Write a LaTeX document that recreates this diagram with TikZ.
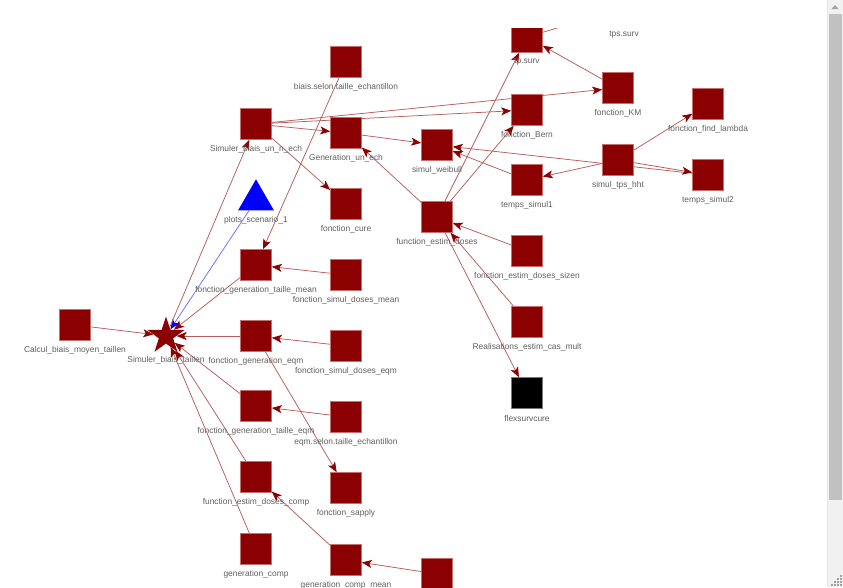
\documentclass[tikz,border=0pt]{standalone}
\usepackage{fontspec}
\setmainfont{Liberation Sans}
\usetikzlibrary{shapes.geometric,arrows.meta}
\pgfdeclarelayer{canvas}
\pgfdeclarelayer{edges}
\pgfsetlayers{canvas,edges,main}
\definecolor{nodered}{RGB}{139,0,0}
\definecolor{noderim}{RGB}{200,110,110}
\definecolor{blackrim}{RGB}{120,120,120}
\definecolor{edgered}{RGB}{184,92,92}
\definecolor{edgeblue}{RGB}{110,110,255}
\definecolor{labelgray}{RGB}{95,95,95}
\definecolor{track}{RGB}{241,241,241}
\definecolor{trackline}{RGB}{230,230,230}
\definecolor{thumb}{RGB}{193,193,193}
\definecolor{uparrow}{RGB}{163,163,163}
\definecolor{grip}{RGB}{160,160,160}
% square node with its caption below
\newcommand\netnode[4][]{%
  \node[sq,#1] (#2) at (#3) {};
  \node[lbl] (#2-l) at ([yshift=-25pt]#2.center) {#4};}
\begin{document}
\begin{tikzpicture}[x=1pt,y=-1pt,
  sq/.style={rectangle,fill=nodered,draw=noderim,line width=0.6pt,
    minimum size=31pt,inner sep=0pt},
  blacksq/.style={fill=black,draw=blackrim},
  lbl/.style={font=\fontsize{8.4}{10}\selectfont,text=labelgray,inner sep=0pt},
  link/.style={draw=edgered,line width=0.75pt,
    -{Stealth[length=10pt,width=8pt,inset=2.5pt,color=nodered]}},
  bluelink/.style={draw=edgeblue,line width=0.75pt,
    -{Stealth[length=10pt,width=8pt,inset=2.5pt,color=blue]}}]
\useasboundingbox (0,0) rectangle (843,587);
\begin{pgfonlayer}{canvas}
\fill[white] (0,0) rectangle (843,587);
\end{pgfonlayer}

\begin{scope}
\clip (0,28) rectangle (827,587);
% left cluster
\netnode{cbm}{75,325}{Calcul\_biais\_moyen\_taillen}
\node[star,star points=5,star point ratio=2.6,minimum size=39pt,inner sep=0pt,
  fill=nodered] (sbt) at (166,336) {};
\node[lbl] (sbt-l) at (166,360) {Simuler\_biais\_taillen};
\node[regular polygon,regular polygon sides=3,minimum size=41.4pt,inner sep=0pt,
  fill=blue] (plt) at (256,200) {};
\node[lbl] (plt-l) at (256,220) {plots\_scenario\_1};
\netnode{sbu}{256,124}{Simuler\_biais\_un\_n\_ech}
\netnode{bst}{346,62}{biais.selon.taille\_echantillon}
\netnode{gue}{346,133}{Generation\_un\_ech}
\netnode{fcu}{346,204}{fonction\_cure}
\netnode{fgtm}{256,265}{fonction\_generation\_taille\_mean}
\netnode{fsdm}{346,275}{fonction\_simul\_doses\_mean}
\netnode{fge}{256,336}{fonction\_generation\_eqm}
\netnode{fsde}{346,346}{fonction\_simul\_doses\_eqm}
\netnode{fgte}{256,406}{fonction\_generation\_taille\_eqm}
\netnode{eqm}{346,417}{eqm.selon.taille\_echantillon}
\netnode{fedc}{256,477}{function\_estim\_doses\_comp}
\netnode{fsa}{346,488}{fonction\_sapply}
\netnode{gc}{256,549}{generation\_comp}
\netnode{gcm}{346,560}{generation\_comp\_mean}
\node[sq] (nbot) at (437,574) {};
% right cluster
\netnode{swe}{437,145}{simul\_weibull}
\netnode{fed}{437,217}{function\_estim\_doses}
\netnode{tps}{527,37}{tp.surv}
\node[sq] (tpss) at (624,8) {};
\node[lbl] (tpss-l) at (624,35) {tps.surv};
\netnode{fbe}{527,110}{fonction\_Bern}
\netnode{fkm}{618,88}{fonction\_KM}
\netnode{ffl}{708,104}{fonction\_find\_lambda}
\netnode{sth}{618,160}{simul\_tps\_hht}
\netnode{ts1}{527,180}{temps\_simul1}
\netnode{ts2}{708,175}{temps\_simul2}
\netnode{feds}{527,251}{fonction\_estim\_doses\_sizen}
\netnode{rec}{527,322}{Realisations\_estim\_cas\_mult}
\netnode[blacksq]{fsc}{527,393}{flexsurvcure}
\end{scope}

\begin{pgfonlayer}{edges}
\clip (0,28) rectangle (827,587);
\draw[link] (cbm) -- (sbt);
\draw[link] (fgtm) -- (sbt);
\draw[link] (fge) -- (sbt);
\draw[bluelink] (plt) -- (sbt);
\draw[link] (fgte) -- (sbt);
\draw[link] (fedc) -- (sbt);
\draw[link] (gc) -- (sbt);
\draw[link] (sbt) -- (sbu);
\draw[link] (bst) -- (fgtm);
\draw[link] (fsdm) -- (fgtm);
\draw[link] (fsde) -- (fge);
\draw[link] (eqm) -- (fgte);
\draw[link] (fge) -- (fsa);
\draw[link] (gcm) -- (fedc);
\draw[link] (nbot) -- (gcm);
\draw[link] (sbu) -- (gue);
\draw[link] (sbu) -- (fcu);
\draw[link] (sbu) -- (fbe);
\draw[link] (sbu) -- (fkm);
\draw[link] (gue) -- (swe);
\draw[link] (fed) -- (gue);
\draw[link] (fed) -- (fbe);
\draw[link] (fed) -- (tps);
\draw[link] (fkm) -- (tps);
\draw[link] (tps) -- (tpss);
\draw[link] (ts1) -- (swe);
\draw[link] (ts2) -- (swe);
\draw[link] (sth) -- (ts2);
\draw[link] (sth) -- (ts1);
\draw[link] (sth) -- (ffl);
\draw[link] (feds) -- (fed);
\draw[link] (rec) -- (fed);
\draw[link] (fed) -- (fsc);
\end{pgfonlayer}

% vertical scroll bar
\fill[track] (827,0) rectangle (843,587);
\draw[trackline,line width=0.6pt] (827.3,0) -- (827.3,587);
\fill[thumb] (829,14) rectangle (842,500);
\fill[uparrow] (831.5,9) -- (838.5,9) -- (835,5) -- cycle;
\foreach \i in {0,...,3}{
  \foreach \j in {0,...,\i}{
    \fill[grip] (840-3*\j,584-3*\i+3*\j) rectangle ++(1.5,1.5);
  }
}
\end{tikzpicture}
\end{document}
